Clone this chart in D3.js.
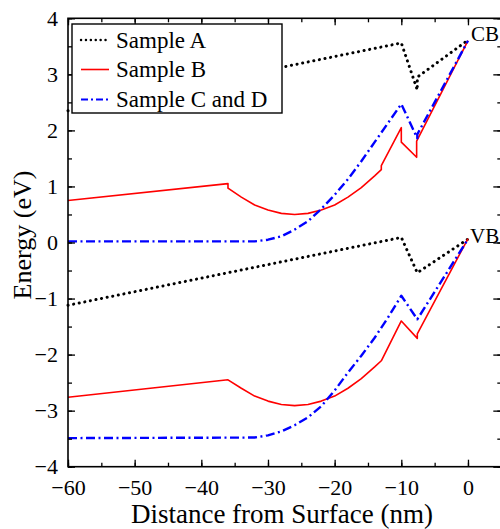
<!DOCTYPE html>
<html><head><meta charset="utf-8">
<script src="https://cdn.jsdelivr.net/npm/d3@7/dist/d3.min.js"></script>
<style>
body{margin:0;background:#fff;}
svg{display:block;}
</style></head>
<body><svg id="chart" width="500" height="529"></svg>
<script>
// ---- data (distance in nm, energy in eV) ----
const xTicks = [-60,-50,-40,-30,-20,-10,0];
const yTicks = [-4,-3,-2,-1,0,1,2,3,4];

const sampleA_CB_x = [-60, -10, -7.6, -7.6, 0];
const sampleA_CB_E = [2.35, 3.56, 2.72, 2.95, 3.61];
const sampleA_VB_x = [-60, -10, -7.6, 0];
const sampleA_VB_E = [-1.12, 0.09, -0.54, 0.06];

const sampleB_CB_x = [-60, -36, -36, -34, -32, -30, -28, -26, -24, -22, -20, -18, -16, -14, -13, -13, -10, -10, -7.7, -7.7, 0];
const sampleB_CB_E = [0.75, 1.05, 0.97, 0.81, 0.67, 0.58, 0.52, 0.50, 0.52, 0.58, 0.67, 0.81, 0.98, 1.19, 1.30, 1.37, 2.05, 1.79, 1.52, 1.81, 3.60];
const sampleB_VB_x = [-60, -36, -34, -32, -30, -28, -26, -24, -22, -20, -18, -16, -14, -13, -10, -7.6, -7.6, 0];
const sampleB_VB_E = [-2.76, -2.45, -2.60, -2.74, -2.83, -2.89, -2.91, -2.89, -2.83, -2.74, -2.60, -2.43, -2.22, -2.11, -1.40, -1.71, -1.63, 0.07];

const sampleCD_CB_x = [-60, -32, -30, -28, -26, -24, -22, -20, -18, -16, -14, -12, -10, -7.6, -7.6, 0];
const sampleCD_CB_E = [0.02, 0.02, 0.05, 0.11, 0.23, 0.38, 0.60, 0.85, 1.13, 1.45, 1.79, 2.13, 2.47, 1.86, 1.93, 3.60];
const sampleCD_VB_x = [-60, -32, -30, -28, -26, -24, -22, -20, -18, -16, -14, -12, -10, -7.6, 0];
const sampleCD_VB_E = [-3.49, -3.48, -3.44, -3.37, -3.26, -3.12, -2.92, -2.64, -2.32, -2.02, -1.70, -1.34, -0.95, -1.37, 0.06];

const legendLabels = ["Sample A", "Sample B", "Sample C and D"];

// ---- layout ----
const FONT = "'Liberation Serif', 'Times New Roman', Times, 'DejaVu Serif', serif";
const svg = d3.select("#chart").style("font-family", FONT);
const x = d3.scaleLinear().domain([-60, 5]).range([68, 501.3]);
const y = d3.scaleLinear().domain([-4, 4]).range([466.7, 18.3]);

const styles = [
  {stroke:"#000", width:3, dash:"0.1 5.6", cap:"round"},
  {stroke:"#ff0000", width:1.6, dash:null, cap:"butt"},
  {stroke:"#0000ff", width:2.4, dash:"9 3.5 2 3.5", cap:"butt"}
];

const series = [
  {x: sampleA_CB_x, e: sampleA_CB_E, s: 0},
  {x: sampleA_VB_x, e: sampleA_VB_E, s: 0},
  {x: sampleB_CB_x, e: sampleB_CB_E, s: 1},
  {x: sampleB_VB_x, e: sampleB_VB_E, s: 1},
  {x: sampleCD_CB_x, e: sampleCD_CB_E, s: 2},
  {x: sampleCD_VB_x, e: sampleCD_VB_E, s: 2}
];

const line = d3.line().x(d => x(d[0])).y(d => y(d[1]));
series.forEach(sr => {
  const pts = sr.x.map((v, i) => [v, sr.e[i]]);
  const st = styles[sr.s];
  svg.append("path").attr("d", line(pts))
    .attr("fill", "none").attr("stroke", st.stroke)
    .attr("stroke-width", st.width)
    .attr("stroke-dasharray", st.dash)
    .attr("stroke-linecap", st.cap)
    .attr("stroke-linejoin", "round");
});

// ---- axes ----
const fs = 22;
const minorX = d3.range(-60, 5.01, 5);
const minorY = d3.range(-4, 4.01, 0.5);

function styleAxis(g){
  g.attr("font-family", null).attr("font-size", null);
  g.select(".domain").remove();
  g.selectAll(".tick line").attr("stroke", "#000").attr("stroke-width", 1.3);
  g.selectAll("text").style("font-size", fs + "px").style("font-family", FONT).attr("fill", "#000");
}

// bottom
svg.append("g").attr("transform", `translate(0,${y(-4)})`)
  .call(d3.axisBottom(x).tickValues(minorX).tickSize(-4).tickFormat(""))
  .call(styleAxis);
svg.append("g").attr("transform", `translate(0,${y(-4)})`)
  .call(d3.axisBottom(x).tickValues(xTicks).tickSize(-7).tickPadding(13).tickFormat(d3.format("d")))
  .call(styleAxis);
// top
svg.append("g").attr("transform", `translate(0,${y(4)})`)
  .call(d3.axisTop(x).tickValues(minorX).tickSize(-4).tickFormat(""))
  .call(styleAxis);
svg.append("g").attr("transform", `translate(0,${y(4)})`)
  .call(d3.axisTop(x).tickValues(xTicks).tickSize(-7).tickFormat(""))
  .call(styleAxis);
// left
svg.append("g").attr("transform", `translate(${x(-60)},0)`)
  .call(d3.axisLeft(y).tickValues(minorY).tickSize(-4).tickFormat(""))
  .call(styleAxis);
svg.append("g").attr("transform", `translate(${x(-60)},0)`)
  .call(d3.axisLeft(y).tickValues(yTicks).tickSize(-7).tickPadding(10).tickFormat(d3.format("d")))
  .call(styleAxis);
// right
svg.append("g").attr("transform", `translate(${x(5)},0)`)
  .call(d3.axisRight(y).tickValues(minorY).tickSize(-4).tickFormat(""))
  .call(styleAxis);
svg.append("g").attr("transform", `translate(${x(5)},0)`)
  .call(d3.axisRight(y).tickValues(yTicks).tickSize(-8).tickFormat(""))
  .call(styleAxis);

// frame
svg.append("rect").attr("x", x(-60)).attr("y", y(4))
  .attr("width", x(5) - x(-60)).attr("height", y(-4) - y(4))
  .attr("fill", "none").attr("stroke", "#000").attr("stroke-width", 1.6);

function txt(sel){ return sel.style("font-family", FONT).attr("fill", "#000"); }

// axis titles
svg.append("text").attr("x", (x(-60) + x(0)) / 2 + 14).attr("y", 523)
  .attr("text-anchor", "middle").style("font-size", "27px").call(txt)
  .text("Distance from Surface (nm)");
svg.append("text").attr("transform", `translate(31,235) rotate(-90)`)
  .attr("text-anchor", "middle").style("font-size", "26px").call(txt)
  .text("Energy (eV)");

// band labels
svg.append("text").attr("x", 471).attr("y", 41).style("font-size", "21px").call(txt).text("CB");
svg.append("text").attr("x", 470).attr("y", 243).style("font-size", "21px").call(txt).text("VB");

// ---- legend ----
const lg = svg.append("g");
lg.append("rect").attr("x", 72).attr("y", 24).attr("width", 210).attr("height", 89)
  .attr("fill", "#fff").attr("stroke", "#000").attr("stroke-width", 1.4);
const legY = [40, 69.5, 99.5];
legendLabels.forEach((lab, i) => {
  const st = styles[i];
  lg.append("line").attr("x1", 81).attr("x2", 109).attr("y1", legY[i]).attr("y2", legY[i])
    .attr("stroke", st.stroke)
    .attr("stroke-width", i === 0 ? 2.4 : (i === 2 ? 2 : 1.6))
    .attr("stroke-dasharray", i === 0 ? "0.1 4.8" : (i === 2 ? "7 3 2 3" : null))
    .attr("stroke-linecap", st.cap);
  lg.append("text").attr("x", 116).attr("y", legY[i]).attr("dy", "0.34em")
    .style("font-size", "23px").call(txt).text(lab);
});
</script></body></html>
